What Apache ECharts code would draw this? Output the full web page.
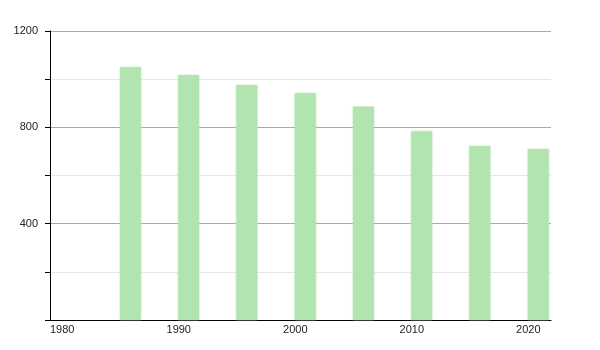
<!DOCTYPE html>
<html>
<head>
<meta charset="utf-8">
<script src="https://cdn.jsdelivr.net/npm/echarts@6/dist/echarts.min.js"></script>
<style>html,body{margin:0;padding:0;background:#fff}#c{width:600px;height:350px}</style>
</head>
<body>
<div id="c"></div>
<script>
var years = [1986, 1991, 1996, 2001, 2006, 2011, 2016, 2021];
var population = [1049, 1017, 976, 942, 886, 783, 723, 710];
var barSpanYears = 1.8;

var chart = echarts.init(document.getElementById('c'), null, {renderer: 'canvas'});
chart.setOption({
  animation: false,
  grid: {left: 50, right: 49, top: 31, bottom: 30},
  xAxis: {
    type: 'value', min: 1980, max: 2023, interval: 10,
    axisLine: {show: true, lineStyle: {color: '#000', width: 1}},
    axisTick: {show: false},
    splitLine: {show: false},
    axisLabel: {align: 'left', margin: 4, color: '#222', fontSize: 11, fontFamily: 'Liberation Sans',
      formatter: function (v) { return String(v); }, showMaxLabel: false}
  },
  yAxis: {
    type: 'value', min: 0, max: 1200, interval: 200,
    axisLine: {show: true, lineStyle: {color: '#000', width: 1}},
    axisTick: {show: true, length: 5, lineStyle: {color: '#000'}},
    splitLine: {show: true, lineStyle: {color: ['#aaaaaa', '#e6e6e6'], width: 1}},
    axisLabel: {margin: 12, color: '#222', fontSize: 11, fontFamily: 'Liberation Sans',
      formatter: function (v) { return (v > 0 && v % 400 === 0) ? String(v) : ''; }}
  },
  series: [{
    type: 'custom',
    data: years.map(function (y, i) { return [y, population[i]]; }),
    encode: {x: 0, y: 1},
    renderItem: function (params, api) {
      var y0 = api.value(0), v = api.value(1);
      var p1 = api.coord([y0, v]);
      var p2 = api.coord([y0 + barSpanYears, 0]);
      return {
        type: 'rect',
        shape: {x: p1[0], y: p1[1], width: p2[0] - p1[0], height: p2[1] - p1[1]},
        style: {fill: '#b1e4ae', shadowBlur: 2, shadowColor: 'rgba(177,228,174,0.8)'}
      };
    }
  }]
});
</script>
</body>
</html>
